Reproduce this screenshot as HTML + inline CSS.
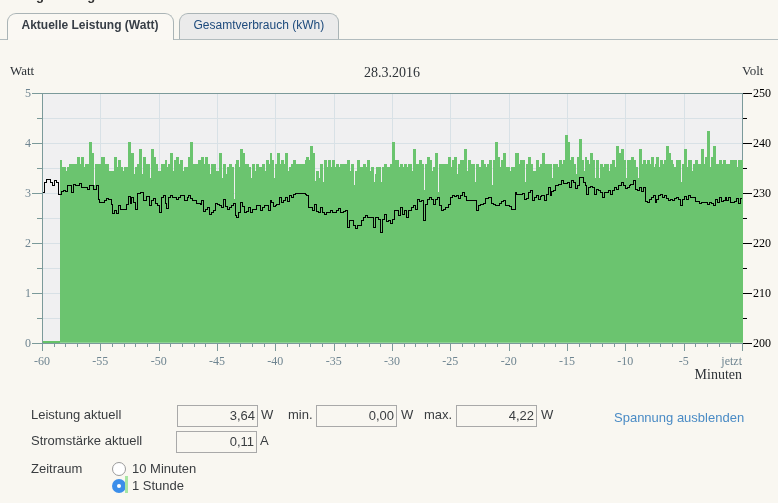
<!DOCTYPE html>
<html><head><meta charset="utf-8"><style>
html,body{margin:0;padding:0;}
body{width:778px;height:503px;overflow:hidden;background:#f9f7f1;position:relative;font-family:"Liberation Sans",sans-serif;}
.gl{will-change:transform;}
.chart{position:absolute;left:0;top:0;}
.tabline{position:absolute;left:0;top:39px;width:778px;height:1px;background:#b2bcbe;}
.tab{will-change:transform;position:absolute;top:13px;height:26px;border:1px solid #aab4b6;border-bottom:none;border-radius:9px 9px 0 0;box-sizing:border-box;font-size:12px;line-height:22px;}
.t1{left:7px;width:167px;background:#faf8f3;height:27px;font-weight:bold;color:#373e46;padding-left:13.5px;}
.t2{left:179px;width:160px;background:#ebebeb;color:#1d4a7c;padding-left:13.5px;}
.lbl{will-change:transform;position:absolute;font-size:13px;color:#3a3d40;white-space:nowrap;line-height:16px;}
.inp{will-change:transform;position:absolute;height:22px;box-sizing:border-box;border:1px solid #a9a9a9;background:#f9f7f1;font-size:13px;color:#3a3d40;text-align:right;padding-right:2px;line-height:19px;}
.link{color:#4a8bc5;}
.radio{position:absolute;width:14px;height:14px;border-radius:50%;box-sizing:border-box;}
.r1{left:112px;top:462px;border:1.5px solid #9a9a9a;background:#fff;}
.r2{left:112px;top:479px;background:#3b8eea;}
.r2:after{content:"";position:absolute;left:5px;top:5px;width:4px;height:4px;border-radius:50%;background:#fff;}
</style></head><body>
<div class="lbl" style="left:7px;top:-12px;font-weight:bold;color:#333;line-height:16px">Energieanzeige: FRITZ!DECT 200 Steckdose</div>
<div class="tabline"></div>
<div class="tab t1">Aktuelle Leistung (Watt)</div>
<div class="tab t2">Gesamtverbrauch (kWh)</div>
<svg class="chart gl" width="778" height="503" viewBox="0 0 778 503"><rect x="42" y="93" width="700" height="250" fill="#f0f0f1"/><path d="M100.5 93V343M159.5 93V343M217.5 93V343M275.5 93V343M334.5 93V343M392.5 93V343M450.5 93V343M509.5 93V343M567.5 93V343M625.5 93V343M684.5 93V343M42 118.5H742M42 143.5H742M42 168.5H742M42 193.5H742M42 218.5H742M42 243.5H742M42 268.5H742M42 293.5H742M42 318.5H742" stroke="#d8e1e6" stroke-width="1" fill="none" shape-rendering="crispEdges"/><path d="M60 343V160H62V343ZM62 343V167H66V343ZM66 343V171H67V343ZM67 343V167H69V343ZM69 343V164H77V343ZM77 343V157H80V343ZM80 343V164H81V343ZM81 343V157H84V343ZM84 343V167H85V343ZM85 343V164H89V343ZM89 343V142H92V343ZM92 343V153H94V343ZM94 343V185H95V343ZM95 343V164H101V343ZM101 343V157H105V343ZM105 343V164H109V343ZM109 343V171H114V343ZM114 343V157H117V343ZM117 343V167H118V343ZM118 343V160H121V343ZM121 343V167H123V343ZM123 343V171H124V343ZM124 343V167H128V343ZM128 343V142H131V343ZM131 343V153H134V343ZM134 343V174H135V343ZM135 343V167H137V343ZM137 343V164H139V343ZM139 343V149H142V343ZM142 343V174H143V343ZM143 343V157H146V343ZM146 343V164H150V343ZM150 343V178H151V343ZM151 343V149H154V343ZM154 343V157H156V343ZM156 343V164H158V343ZM158 343V171H161V343ZM161 343V164H165V343ZM165 343V160H167V343ZM167 343V167H168V343ZM168 343V164H170V343ZM170 343V153H173V343ZM173 343V171H174V343ZM174 343V160H176V343ZM176 343V157H179V343ZM179 343V164H180V343ZM180 343V160H183V343ZM183 343V171H184V343ZM184 343V167H188V343ZM188 343V157H190V343ZM190 343V142H193V343ZM193 343V164H198V343ZM198 343V160H200V343ZM200 343V160H201V343ZM201 343V157H204V343ZM204 343V164H205V343ZM205 343V157H208V343ZM208 343V164H210V343ZM210 343V174H211V343ZM211 343V164H216V343ZM216 343V171H219V343ZM219 343V153H222V343ZM222 343V178H223V343ZM223 343V164H226V343ZM226 343V174H227V343ZM227 343V167H229V343ZM229 343V164H232V343ZM232 343V167H234V343ZM234 343V199H235V343ZM235 343V164H236V343ZM236 343V160H239V343ZM239 343V167H240V343ZM240 343V149H243V343ZM243 343V153H245V343ZM245 343V164H249V343ZM249 343V167H251V343ZM251 343V178H252V343ZM252 343V164H255V343ZM255 343V171H256V343ZM256 343V164H259V343ZM259 343V167H262V343ZM262 343V164H265V343ZM265 343V171H266V343ZM266 343V160H269V343ZM269 343V164H270V343ZM270 343V153H272V343ZM272 343V160H274V343ZM274 343V178H275V343ZM275 343V164H277V343ZM277 343V153H280V343ZM280 343V164H281V343ZM281 343V160H284V343ZM284 343V164H285V343ZM285 343V153H288V343ZM288 343V171H289V343ZM289 343V167H291V343ZM291 343V164H293V343ZM293 343V160H296V343ZM296 343V164H305V343ZM305 343V160H306V343ZM306 343V157H309V343ZM309 343V160H310V343ZM310 343V146H313V343ZM313 343V153H315V343ZM315 343V181H316V343ZM316 343V171H319V343ZM319 343V178H320V343ZM320 343V164H323V343ZM323 343V182H324V343ZM324 343V160H327V343ZM327 343V167H328V343ZM328 343V160H331V343ZM331 343V167H332V343ZM332 343V160H335V343ZM335 343V167H336V343ZM336 343V164H339V343ZM339 343V167H340V343ZM340 343V164H347V343ZM347 343V160H350V343ZM350 343V171H351V343ZM351 343V164H354V343ZM354 343V185H355V343ZM355 343V171H357V343ZM357 343V160H360V343ZM360 343V167H363V343ZM363 343V164H366V343ZM366 343V167H367V343ZM367 343V160H370V343ZM370 343V171H371V343ZM371 343V167H374V343ZM374 343V182H375V343ZM375 343V174H376V343ZM376 343V167H381V343ZM381 343V182H382V343ZM382 343V167H384V343ZM384 343V164H387V343ZM387 343V167H390V343ZM390 343V164H392V343ZM392 343V142H395V343ZM395 343V160H399V343ZM399 343V167H400V343ZM400 343V164H403V343ZM403 343V167H404V343ZM404 343V164H407V343ZM407 343V167H408V343ZM408 343V164H412V343ZM412 343V171H413V343ZM413 343V149H416V343ZM416 343V164H419V343ZM419 343V160H422V343ZM422 343V164H424V343ZM424 343V190H425V343ZM425 343V164H427V343ZM427 343V157H430V343ZM430 343V160H432V343ZM432 343V171H433V343ZM433 343V167H435V343ZM435 343V153H438V343ZM438 343V192H439V343ZM439 343V164H440V343ZM440 343V164H448V343ZM448 343V157H451V343ZM451 343V167H452V343ZM452 343V160H454V343ZM454 343V157H457V343ZM457 343V174H458V343ZM458 343V164H460V343ZM460 343V160H464V343ZM464 343V149H467V343ZM467 343V171H468V343ZM468 343V160H471V343ZM471 343V164H475V343ZM475 343V182H476V343ZM476 343V164H479V343ZM479 343V167H481V343ZM481 343V160H484V343ZM484 343V164H486V343ZM486 343V167H487V343ZM487 343V164H489V343ZM489 343V160H492V343ZM492 343V185H493V343ZM493 343V160H495V343ZM495 343V142H498V343ZM498 343V157H500V343ZM500 343V167H501V343ZM501 343V160H503V343ZM503 343V153H506V343ZM506 343V167H510V343ZM510 343V171H511V343ZM511 343V167H515V343ZM515 343V153H519V343ZM519 343V164H520V343ZM520 343V160H525V343ZM525 343V182H526V343ZM526 343V164H528V343ZM528 343V157H531V343ZM531 343V164H533V343ZM533 343V171H536V343ZM536 343V160H539V343ZM539 343V167H540V343ZM540 343V164H542V343ZM542 343V153H545V343ZM545 343V164H552V343ZM552 343V178H553V343ZM553 343V164H558V343ZM558 343V167H559V343ZM559 343V160H562V343ZM562 343V164H563V343ZM563 343V160H565V343ZM565 343V135H568V343ZM568 343V142H570V343ZM570 343V160H571V343ZM571 343V157H574V343ZM574 343V164H576V343ZM576 343V174H577V343ZM577 343V157H579V343ZM579 343V139H582V343ZM582 343V160H584V343ZM584 343V171H585V343ZM585 343V157H587V343ZM587 343V160H589V343ZM589 343V164H590V343ZM590 343V153H593V343ZM593 343V160H595V343ZM595 343V178H596V343ZM596 343V160H599V343ZM599 343V178H600V343ZM600 343V164H603V343ZM603 343V167H604V343ZM604 343V164H609V343ZM609 343V171H610V343ZM610 343V164H612V343ZM612 343V160H615V343ZM615 343V167H616V343ZM616 343V146H619V343ZM619 343V153H621V343ZM621 343V149H624V343ZM624 343V160H626V343ZM626 343V178H627V343ZM627 343V160H631V343ZM631 343V157H634V343ZM634 343V160H636V343ZM636 343V167H638V343ZM638 343V178H639V343ZM639 343V149H642V343ZM642 343V164H643V343ZM643 343V160H646V343ZM646 343V164H647V343ZM647 343V160H650V343ZM650 343V164H651V343ZM651 343V157H654V343ZM654 343V167H655V343ZM655 343V164H656V343ZM656 343V157H659V343ZM659 343V167H660V343ZM660 343V160H663V343ZM663 343V164H664V343ZM664 343V160H666V343ZM666 343V146H669V343ZM669 343V153H671V343ZM671 343V160H673V343ZM673 343V164H674V343ZM674 343V167H676V343ZM676 343V160H680V343ZM680 343V160H681V343ZM681 343V182H682V343ZM682 343V164H684V343ZM684 343V149H687V343ZM687 343V167H688V343ZM688 343V160H692V343ZM692 343V171H693V343ZM693 343V164H695V343ZM695 343V160H698V343ZM698 343V164H701V343ZM701 343V149H704V343ZM704 343V164H705V343ZM705 343V157H707V343ZM707 343V131H710V343ZM710 343V167H711V343ZM711 343V157H713V343ZM713 343V146H716V343ZM716 343V164H719V343ZM719 343V160H722V343ZM722 343V164H723V343ZM723 343V160H726V343ZM726 343V164H730V343ZM730 343V160H737V343ZM737 343V167H738V343ZM738 343V160H742V343Z" fill="#6bc46f" shape-rendering="crispEdges"/><rect x="42" y="341" width="18" height="2" fill="#66c268"/><rect x="60" y="342" width="682" height="1" fill="#8ed492"/><path d="M42.5 192.5H44.5V182.5H46.5V179.5H50.5V182.5H52.5V185.5H54.5V180.5H56.5V182.5H58.5V194.5H61.5V191.5H63.5V190.5H65.5V191.5H67.5V185.5H71.5V192.5H73.5V184.5H75.5V185.5H79.5V183.5H81.5V187.5H87.5V189.5H89.5V185.5H93.5V189.5H96.5V185.5H98.5V199.5H99.5V202.5H104.5V200.5H106.5V198.5H108.5V199.5H111.5V204.5H112.5V213.5H114.5V210.5H116.5V213.5H118.5V205.5H120.5V209.5H126.5V204.5H128.5V196.5H130.5V203.5H131.5V197.5H133.5V202.5H135.5V209.5H137.5V193.5H140.5V192.5H143.5V200.5H146.5V196.5H149.5V205.5H151.5V200.5H153.5V198.5H155.5V203.5H157.5V205.5H159.5V212.5H161.5V197.5H163.5V195.5H165.5V203.5H166.5V208.5H168.5V197.5H170.5V195.5H172.5V197.5H176.5V199.5H178.5V197.5H180.5V195.5H184.5V200.5H187.5V197.5H188.5V195.5H190.5V198.5H192.5V200.5H196.5V203.5H200.5V204.5H201.5V200.5H203.5V211.5H205.5V209.5H207.5V207.5H209.5V214.5H211.5V212.5H213.5V210.5H215.5V203.5H217.5V204.5H219.5V205.5H221.5V207.5H223.5V199.5H225.5V206.5H227.5V209.5H229.5V207.5H231.5V205.5H233.5V203.5H235.5V215.5H236.5V217.5H238.5V212.5H240.5V202.5H242.5V206.5H244.5V212.5H246.5V211.5H248.5V207.5H250.5V212.5H252.5V209.5H256.5V205.5H260.5V210.5H262.5V207.5H264.5V205.5H268.5V210.5H270.5V200.5H271.5V202.5H273.5V206.5H275.5V205.5H276.5V204.5H279.5V197.5H281.5V202.5H283.5V200.5H285.5V197.5H287.5V201.5H289.5V195.5H291.5V197.5H293.5V194.5H295.5V193.5H305.5V194.5H306.5V195.5H308.5V207.5H312.5V210.5H314.5V204.5H316.5V211.5H318.5V212.5H320.5V207.5H322.5V212.5H324.5V214.5H326.5V212.5H330.5V210.5H332.5V212.5H336.5V210.5H338.5V208.5H340.5V212.5H343.5V211.5H345.5V210.5H347.5V227.5H349.5V220.5H353.5V225.5H355.5V228.5H357.5V225.5H361.5V220.5H363.5V217.5H365.5V215.5H367.5V217.5H373.5V227.5H375.5V217.5H378.5V219.5H380.5V232.5H382.5V219.5H384.5V214.5H386.5V221.5H388.5V220.5H390.5V223.5H392.5V219.5H394.5V210.5H398.5V215.5H400.5V207.5H402.5V214.5H404.5V210.5H406.5V217.5H408.5V210.5H411.5V207.5H413.5V205.5H415.5V209.5H417.5V199.5H419.5V201.5H421.5V200.5H423.5V220.5H425.5V204.5H427.5V199.5H429.5V197.5H431.5V199.5H433.5V204.5H435.5V199.5H437.5V197.5H439.5V205.5H441.5V210.5H443.5V209.5H445.5V207.5H448.5V204.5H450.5V197.5H452.5V195.5H454.5V196.5H456.5V195.5H458.5V198.5H460.5V195.5H462.5V192.5H464.5V196.5H466.5V200.5H476.5V210.5H478.5V205.5H480.5V204.5H483.5V203.5H485.5V198.5H488.5V197.5H491.5V203.5H493.5V204.5H495.5V205.5H499.5V203.5H501.5V201.5H503.5V200.5H505.5V205.5H509.5V206.5H511.5V209.5H515.5V192.5H516.5V194.5H522.5V193.5H524.5V199.5H526.5V198.5H528.5V192.5H530.5V190.5H532.5V200.5H534.5V197.5H536.5V195.5H538.5V199.5H540.5V196.5H541.5V195.5H544.5V200.5H546.5V194.5H548.5V187.5H550.5V195.5H551.5V191.5H553.5V190.5H555.5V185.5H558.5V184.5H561.5V180.5H563.5V183.5H567.5V182.5H569.5V187.5H571.5V180.5H573.5V182.5H575.5V188.5H577.5V185.5H579.5V177.5H583.5V182.5H585.5V185.5H586.5V194.5H588.5V187.5H590.5V186.5H592.5V187.5H594.5V194.5H596.5V189.5H598.5V190.5H600.5V192.5H602.5V197.5H604.5V192.5H608.5V190.5H610.5V194.5H612.5V190.5H614.5V187.5H616.5V189.5H618.5V185.5H621.5V182.5H623.5V185.5H625.5V188.5H627.5V187.5H629.5V185.5H630.5V184.5H633.5V180.5H635.5V189.5H637.5V190.5H639.5V187.5H641.5V191.5H643.5V187.5H645.5V201.5H647.5V202.5H649.5V199.5H651.5V197.5H653.5V195.5H655.5V202.5H656.5V199.5H658.5V195.5H660.5V194.5H662.5V197.5H664.5V195.5H666.5V198.5H668.5V200.5H670.5V199.5H672.5V200.5H674.5V198.5H676.5V197.5H678.5V199.5H680.5V205.5H682.5V199.5H684.5V196.5H686.5V199.5H688.5V195.5H690.5V197.5H695.5V201.5H699.5V203.5H701.5V202.5H707.5V204.5H709.5V202.5H711.5V203.5H713.5V205.5H715.5V199.5H717.5V202.5H719.5V197.5H721.5V201.5H723.5V200.5H725.5V197.5H726.5V200.5H728.5V197.5H730.5V202.5H734.5V201.5H736.5V198.5H738.5V203.5H740.5V198.5H742.5V198.5H742" stroke="#000" stroke-width="1" fill="none" shape-rendering="crispEdges"/><path d="M42.5 93V351M32 93.5H742M32 343.5H743M742.5 93V351" stroke="#7b9a9a" stroke-width="1" fill="none" shape-rendering="crispEdges"/><rect x="742" y="160" width="1" height="182" fill="#6bc46f"/><rect x="742" y="342" width="1" height="1" fill="#8ed492"/><path d="M32 93.5H42M37 118.5H42M32 143.5H42M37 168.5H42M32 193.5H42M37 218.5H42M32 243.5H42M37 268.5H42M32 293.5H42M37 318.5H42M32 343.5H42M42.5 343V351M54.5 343V347M65.5 343V347M77.5 343V347M89.5 343V347M100.5 343V351M112.5 343V347M124.5 343V347M135.5 343V347M147.5 343V347M159.5 343V351M170.5 343V347M182.5 343V347M194.5 343V347M205.5 343V347M217.5 343V351M229.5 343V347M240.5 343V347M252.5 343V347M264.5 343V347M275.5 343V351M287.5 343V347M299.5 343V347M310.5 343V347M322.5 343V347M334.5 343V351M345.5 343V347M357.5 343V347M369.5 343V347M380.5 343V347M392.5 343V351M404.5 343V347M415.5 343V347M427.5 343V347M439.5 343V347M450.5 343V351M462.5 343V347M474.5 343V347M485.5 343V347M497.5 343V347M509.5 343V351M520.5 343V347M532.5 343V347M544.5 343V347M555.5 343V347M567.5 343V351M579.5 343V347M590.5 343V347M602.5 343V347M614.5 343V347M625.5 343V351M637.5 343V347M649.5 343V347M660.5 343V347M672.5 343V347M684.5 343V351M695.5 343V347M707.5 343V347M719.5 343V347M730.5 343V347M742.5 343V351" stroke="#7b9a9a" stroke-width="1" fill="none" shape-rendering="crispEdges"/><path d="M743 93.5H752M743 118.5H747M743 143.5H752M743 168.5H747M743 193.5H752M743 218.5H747M743 243.5H752M743 268.5H747M743 293.5H752M743 318.5H747M743 343.5H752" stroke="#000" stroke-width="1" fill="none" shape-rendering="crispEdges"/><g font-family="Liberation Serif, serif"><text x="31" y="347" text-anchor="end" fill="#6f8591" font-size="12">0</text><text x="31" y="297" text-anchor="end" fill="#6f8591" font-size="12">1</text><text x="31" y="247" text-anchor="end" fill="#6f8591" font-size="12">2</text><text x="31" y="197" text-anchor="end" fill="#6f8591" font-size="12">3</text><text x="31" y="147" text-anchor="end" fill="#6f8591" font-size="12">4</text><text x="31" y="97" text-anchor="end" fill="#6f8591" font-size="12">5</text><text x="753" y="347" fill="#000" font-size="12">200</text><text x="753" y="297" fill="#000" font-size="12">210</text><text x="753" y="247" fill="#000" font-size="12">220</text><text x="753" y="197" fill="#000" font-size="12">230</text><text x="753" y="147" fill="#000" font-size="12">240</text><text x="753" y="97" fill="#000" font-size="12">250</text><text x="42.0" y="365" text-anchor="middle" fill="#6f8591" font-size="12">-60</text><text x="100.3" y="365" text-anchor="middle" fill="#6f8591" font-size="12">-55</text><text x="158.7" y="365" text-anchor="middle" fill="#6f8591" font-size="12">-50</text><text x="217.0" y="365" text-anchor="middle" fill="#6f8591" font-size="12">-45</text><text x="275.3" y="365" text-anchor="middle" fill="#6f8591" font-size="12">-40</text><text x="333.7" y="365" text-anchor="middle" fill="#6f8591" font-size="12">-35</text><text x="392.0" y="365" text-anchor="middle" fill="#6f8591" font-size="12">-30</text><text x="450.3" y="365" text-anchor="middle" fill="#6f8591" font-size="12">-25</text><text x="508.7" y="365" text-anchor="middle" fill="#6f8591" font-size="12">-20</text><text x="567.0" y="365" text-anchor="middle" fill="#6f8591" font-size="12">-15</text><text x="625.3" y="365" text-anchor="middle" fill="#6f8591" font-size="12">-10</text><text x="683.7" y="365" text-anchor="middle" fill="#6f8591" font-size="12">-5</text><text x="742" y="365" text-anchor="end" fill="#6f8591" font-size="12">jetzt</text><text x="10" y="75" fill="#2e3338" font-size="13">Watt</text><text x="742" y="75" fill="#2e3338" font-size="13">Volt</text><text x="392" y="77" text-anchor="middle" fill="#2e3338" font-size="14">28.3.2016</text><text x="742" y="379" text-anchor="end" fill="#2e3338" font-size="14">Minuten</text></g></svg>
<div class="lbl" style="left:31px;top:406.5px">Leistung aktuell</div>
<div class="lbl" style="left:31px;top:433px">Stromstärke aktuell</div>
<div class="inp" style="left:177px;top:405px;width:81px">3,64</div>
<div class="lbl" style="left:261px;top:406.5px">W</div>
<div class="lbl" style="left:288px;top:406.5px">min.</div>
<div class="inp" style="left:316px;top:405px;width:81px">0,00</div>
<div class="lbl" style="left:401px;top:406.5px">W</div>
<div class="lbl" style="left:424px;top:406.5px">max.</div>
<div class="inp" style="left:456px;top:405px;width:81px">4,22</div>
<div class="lbl" style="left:541px;top:406.5px">W</div>
<div class="inp" style="left:176px;top:431px;width:81px">0,11</div>
<div class="lbl" style="left:260px;top:433px">A</div>
<div class="lbl link" style="left:613.5px;top:409.5px">Spannung ausblenden</div>
<div class="lbl" style="left:31px;top:461px">Zeitraum</div>
<div class="radio r1"></div>
<div class="radio r2"></div>
<div style="position:absolute;left:125px;top:476px;width:3px;height:17px;background:#a8e6a3"></div>
<div class="lbl" style="left:132px;top:461px">10 Minuten</div>
<div class="lbl" style="left:132px;top:478px">1 Stunde</div>
</body></html>
